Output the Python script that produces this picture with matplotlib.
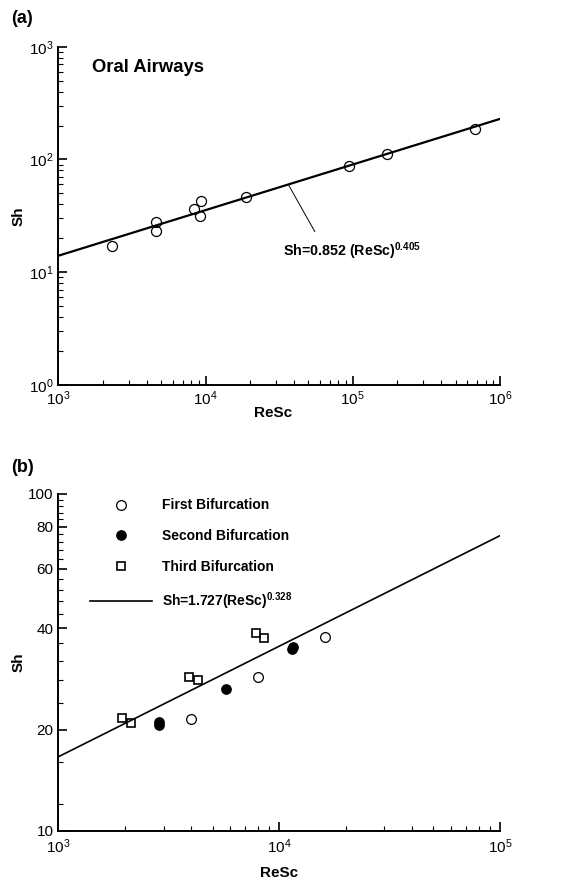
import matplotlib
matplotlib.use("Agg")
import matplotlib.pyplot as plt
from matplotlib.ticker import FixedLocator, FuncFormatter, MultipleLocator, NullFormatter

plt.rcParams["font.family"] = ["Liberation Sans", "DejaVu Sans"]
plt.rcParams["mathtext.fontset"] = "custom"
plt.rcParams["mathtext.rm"] = "Liberation Sans"
plt.rcParams["mathtext.bf"] = "Liberation Sans:bold"
plt.rcParams["mathtext.it"] = "Liberation Sans:italic"
plt.rcParams["mathtext.default"] = "regular"

# (a) oral airways
oral_resc = [2310, 4600, 4600, 8380, 9350, 9220, 18800, 94200, 172000, 679000]
oral_sh = [17.1, 27.7, 23.2, 36.4, 43.1, 31.7, 46.8, 88.1, 111, 187]
oral_fit_resc = [1e3, 1e6]
oral_fit_sh = [14.0, 229.0]
oral_fit_label = r"Sh=0.852 (ReSc)$^{\mathbf{0.405}}$"
leader_from = (36500, 60.0)
leader_to = (55300, 22.9)
oral_label_at = (33700, 15.5)

# (b) bifurcations
first_resc = [4010, 8020, 16070]
first_sh = [21.5, 28.6, 37.6]
second_resc = [2860, 2870, 5730, 11480, 11550]
second_sh = [20.6, 21.0, 26.3, 34.6, 35.2]
third_resc = [1950, 2140, 3900, 4270, 7850, 8530]
third_sh = [21.6, 20.9, 28.6, 28.0, 38.6, 37.3]
bif_fit_resc = [1e3, 1e5]
bif_fit_sh = [16.6, 75.2]
bif_labels = ["First Bifurcation", "Second Bifurcation", "Third Bifurcation",
              r"Sh=1.727(ReSc)$^{\mathbf{0.328}}$"]
sh_b_ticks = [10, 20, 40, 60, 80, 100]


def style(ax, xpad):
    for s in ["top", "right"]:
        ax.spines[s].set_visible(False)
    for s in ["left", "bottom"]:
        ax.spines[s].set_linewidth(1.4)
    ax.tick_params(which="major", direction="in", length=6.2, width=1.2, labelsize=11)
    ax.tick_params(which="minor", direction="in", length=3.6, width=0.8)
    ax.tick_params(axis="y", which="both", pad=3.5)
    ax.tick_params(axis="x", which="both", pad=xpad)


fig = plt.figure(figsize=(5.84, 8.83), dpi=100)
ax1 = fig.add_axes([0.0998, 0.5640, 0.7563, 0.3831])
ax2 = fig.add_axes([0.0998, 0.0589, 0.7563, 0.3817])

# panel (a)
ax1.set_xscale("log")
ax1.set_yscale("log")
ax1.plot(oral_fit_resc, oral_fit_sh, "-", color="black", lw=1.6)
ax1.plot(oral_resc, oral_sh, "o", mfc="none", mec="black", ms=7.2, mew=0.9)
ax1.annotate("", xy=leader_from, xytext=leader_to,
             arrowprops=dict(arrowstyle="-", lw=0.7, color="black", shrinkA=0, shrinkB=0))
ax1.text(*oral_label_at, oral_fit_label, fontsize=10.3, fontweight="bold", va="center", ha="left")
ax1.text(0.0763, 0.94, "Oral Airways", transform=ax1.transAxes, fontsize=13.3,
         fontweight="bold", va="center", ha="left")
ax1.set_xlim(1e3, 1e6)
ax1.set_ylim(1, 1e3)
style(ax1, 3.5)
ax1.xaxis.set_minor_formatter(NullFormatter())
ax1.yaxis.set_minor_formatter(NullFormatter())
ax1.set_xlabel("ReSc", fontsize=11, fontweight="bold")
ax1.set_ylabel("Sh", fontsize=11, fontweight="bold")
ax1.xaxis.set_label_coords(0.486, -0.062)
ax1.yaxis.set_label_coords(-0.075, 0.5)

# panel (b)
ax2.set_xscale("log")
ax2.set_yscale("log")
h1, = ax2.plot(first_resc, first_sh, "o", mfc="none", mec="black", ms=7, mew=0.9)
h2, = ax2.plot(second_resc, second_sh, "o", mfc="black", mec="black", ms=6.8, mew=0.9)
h3, = ax2.plot(third_resc, third_sh, "s", mfc="none", mec="black", ms=5.4, mew=1.2)
hf, = ax2.plot(bif_fit_resc, bif_fit_sh, "-", color="black", lw=1.2)
ax2.set_xlim(1e3, 1e5)
ax2.set_ylim(10, 100)
style(ax2, 4.5)
ax2.yaxis.set_major_locator(FixedLocator(sh_b_ticks))
ax2.yaxis.set_major_formatter(FuncFormatter(lambda v, p: f"{v:g}"))
ax2.yaxis.set_minor_locator(MultipleLocator(4))
ax2.yaxis.set_minor_formatter(NullFormatter())
ax2.xaxis.set_minor_formatter(NullFormatter())
ax2.set_xlabel("ReSc", fontsize=11, fontweight="bold")
ax2.set_ylabel("Sh", fontsize=11, fontweight="bold")
ax2.xaxis.set_label_coords(0.5, -0.105)
ax2.yaxis.set_label_coords(-0.075, 0.5)
ax2.legend([h1, h2, h3, hf], bif_labels, loc="upper left", bbox_to_anchor=(0.0718, 0.9866),
           frameon=False, borderpad=0, borderaxespad=0, handlelength=4.5,
           handletextpad=0.72, labelspacing=1.2, prop={"weight": "bold", "size": 10})

fig.text(0.0188, 0.9785, "(a)", fontsize=13, fontweight="bold", va="center", ha="left")
fig.text(0.0188, 0.4711, "(b)", fontsize=13, fontweight="bold", va="center", ha="left")

fig.savefig("out.png", dpi=100)
